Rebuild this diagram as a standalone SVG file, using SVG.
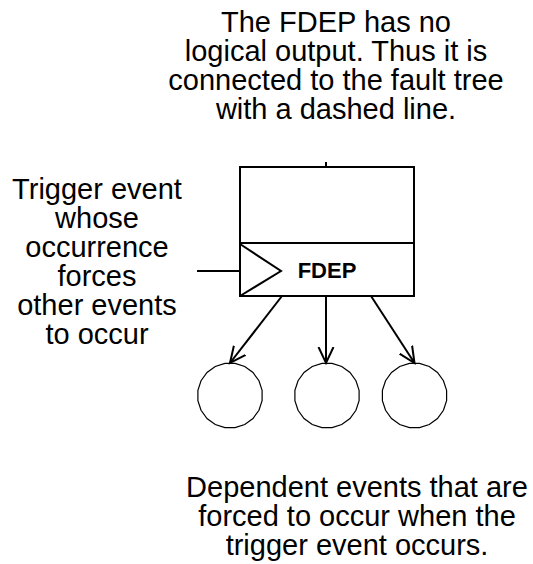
<svg xmlns="http://www.w3.org/2000/svg" width="533" height="564" viewBox="0 0 533 564">
<style>
.t{font-family:"Liberation Sans",Arial,sans-serif;font-size:29px;fill:#000;text-anchor:middle}
.b{font-family:"Liberation Sans",Arial,sans-serif;font-size:22px;font-weight:bold;fill:#000;text-anchor:middle}
.s{fill:none;stroke:#000;stroke-width:2}
.c{fill:#fff;stroke:#000;stroke-width:1.2}
</style>
<defs>
<marker id="v" viewBox="0 0 20 20" refX="16" refY="10" markerWidth="20" markerHeight="20" markerUnits="userSpaceOnUse" orient="auto">
<path d="M0,2.5 L16,10 L0,17.5" fill="none" stroke="#000" stroke-width="2"/>
</marker>
<polygon id="ev" class="c" points="32.10,-5.08 28.96,-14.76 22.98,-22.98 14.76,-28.96 5.08,-32.10 -5.08,-32.10 -14.76,-28.96 -22.98,-22.98 -28.96,-14.76 -32.10,-5.08 -32.10,5.08 -28.96,14.76 -22.98,22.98 -14.76,28.96 -5.08,32.10 5.08,32.10 14.76,28.96 22.98,22.98 28.96,14.76 32.10,5.08"/>
</defs>
<rect width="533" height="564" fill="#fff"/>
<g id="note-top">
<text class="t" x="336" y="32">The FDEP has no</text>
<text class="t" x="336" y="61">logical output. Thus it is</text>
<text class="t" x="336" y="90">connected to the fault tree</text>
<text class="t" x="336" y="119">with a dashed line.</text>
</g>
<g id="note-left">
<text class="t" x="97" y="199">Trigger event</text>
<text class="t" x="97" y="228">whose</text>
<text class="t" x="97" y="257">occurrence</text>
<text class="t" x="97" y="286">forces</text>
<text class="t" x="97" y="315">other events</text>
<text class="t" x="97" y="344">to occur</text>
</g>
<g id="note-bottom">
<text class="t" x="357" y="497">Dependent events that are</text>
<text class="t" x="357" y="526">forced to occur when the</text>
<text class="t" x="357" y="555">trigger event occurs.</text>
</g>
<g id="fdep">
<rect class="s" x="240" y="167" width="174" height="129"/>
<line class="s" x1="240" y1="243" x2="414" y2="243"/>
<polyline class="s" points="240,244 281,271 240,296"/>
<text class="b" x="327" y="278">FDEP</text>
</g>
<g id="event-1"><use href="#ev" x="230" y="395.5"/></g>
<g id="event-2"><use href="#ev" x="327" y="395.5"/></g>
<g id="event-3"><use href="#ev" x="414.5" y="395.5"/></g>
<g id="connectors">
<line class="s" x1="326" y1="162" x2="326" y2="167" stroke-dasharray="4 4"/>
<line class="s" x1="197" y1="271" x2="240" y2="271"/>
<line class="s" x1="282" y1="296" x2="230" y2="363" marker-end="url(#v)"/>
<line class="s" x1="326" y1="296" x2="326" y2="363" marker-end="url(#v)"/>
<line class="s" x1="371" y1="296" x2="414.5" y2="363" marker-end="url(#v)"/>
</g>
</svg>
